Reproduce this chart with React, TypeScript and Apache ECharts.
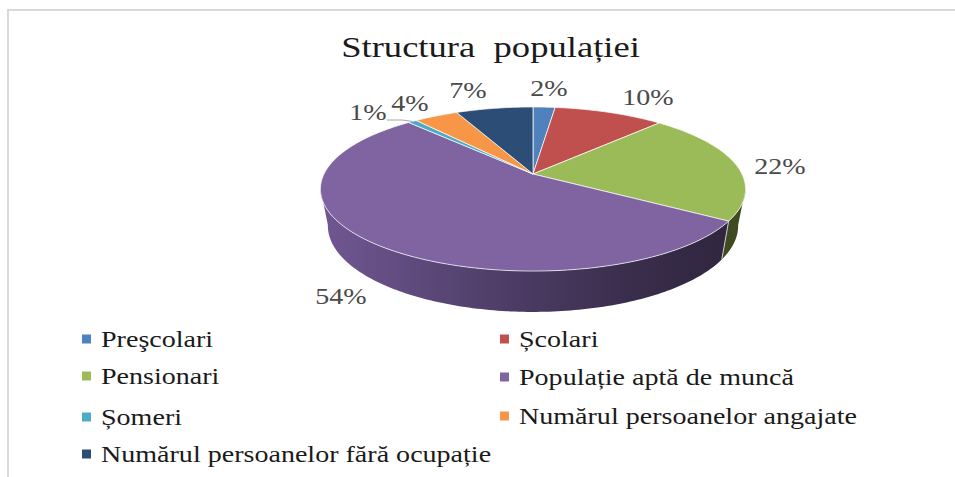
import React, { useEffect, useRef } from "react";
import * as echarts from "echarts";

const chartTitle = "Structura  populației";
const categories = [
  "Preşcolari",
  "Școlari",
  "Pensionari",
  "Populație aptă de muncă",
  "Șomeri",
  "Numărul persoanelor angajate",
  "Numărul persoanelor fără ocupație",
];
const shares = [2, 10, 22, 54.2, 0.8, 4, 7];
const colors = ["#4f81bd", "#c0504d", "#9bbb59", "#8064a2", "#4bacc6", "#f79646", "#2c4d75"];

const labelPositions = [
  [549, 88],
  [648, 97],
  [780, 166],
  [341, 296],
  [368, 112],
  [410, 103],
  [468, 90],
];
const legendPositions = [
  [82, 339],
  [500, 339],
  [82, 376],
  [500, 377],
  [82, 417],
  [500, 416],
  [82, 454],
];

const FONT = "'Liberation Serif', 'Times New Roman', serif";
const STRETCH = 1.22;
const APEX_X = 533;
const APEX_Y = 174;
const TILT = 0.183;
const SCALE_X = 209;
const SCALE_Y = 79.3;
const WALL_SX = 0.965;
const WALL_SY = 1.05;
const WALL_DY = 36;
const VISIBLE_FROM = 100;
const VISIBLE_TO = 260;

const total = shares.reduce((a, b) => a + b, 0);
const toDeg = (v: number) => (v / total) * 360;

function rim(deg: number, lower: boolean): number[] {
  const t = (deg * Math.PI) / 180;
  const X = Math.sin(t);
  const Y = -Math.cos(t);
  const w = 1 - TILT * Y;
  const px = (SCALE_X * X) / w;
  const py = (SCALE_Y * Y) / w;
  return lower
    ? [APEX_X + px * WALL_SX, APEX_Y + py * WALL_SY + WALL_DY]
    : [APEX_X + px, APEX_Y + py];
}

function arc(from: number, to: number, lower: boolean): number[][] {
  const pts: number[][] = [];
  const n = Math.max(2, Math.ceil(to - from));
  for (let i = 0; i <= n; i++) pts.push(rim(from + ((to - from) * i) / n, lower));
  return pts;
}

function wallFill(i: number) {
  if (i === 3) {
    return new echarts.graphic.LinearGradient(0, 0, 1, 0, [
      { offset: 0, color: "#715793" },
      { offset: 0.4, color: "#51406b" },
      { offset: 0.75, color: "#3a2e4d" },
      { offset: 1, color: "#30263f" },
    ]);
  }
  return "#3f4a20";
}

function renderSlice(params: any, api: any) {
  const i = params.seriesIndex;
  const before = shares.slice(0, i).reduce((a, b) => a + b, 0);
  const start = toDeg(before);
  const end = start + toDeg(api.value(0));
  const children: any[] = [];

  const ws = Math.max(start, VISIBLE_FROM);
  const we = Math.min(end, VISIBLE_TO);
  if (we > ws) {
    const top = arc(ws, we, false);
    const low = arc(ws, we, true).reverse();
    children.push({
      type: "polygon",
      shape: { points: top.concat(low) },
      style: { fill: wallFill(i) },
    });
    if (start > VISIBLE_FROM) {
      const a = rim(start, false);
      const b = rim(start, true);
      children.push({
        type: "line",
        shape: { x1: a[0], y1: a[1], x2: b[0], y2: b[1] },
        style: { stroke: "#c9c9d0", lineWidth: 1 },
      });
    }
  }

  children.push({
    type: "polygon",
    shape: { points: [[APEX_X, APEX_Y] as number[]].concat(arc(start, end, false)) },
    style: { fill: colors[i], stroke: "rgba(255,255,255,0.8)", lineWidth: 0.9 },
  });

  children.push({
    type: "text",
    x: labelPositions[i][0],
    y: labelPositions[i][1],
    scaleX: STRETCH,
    style: {
      text: `${Math.round(api.value(0))}%`,
      fill: "#4a4a4a",
      fontFamily: FONT,
      fontSize: 23,
      align: "center",
      verticalAlign: "middle",
    },
  });

  if (i === 4) {
    const p = rim((start + end) / 2, false);
    children.push({
      type: "polyline",
      shape: { points: [[387, 120], [402, 120], p] },
      style: { stroke: "#a6a6a6", lineWidth: 1, fill: "none" },
    });
  }

  return { type: "group", children };
}

export default function App() {
  const ref = useRef<HTMLDivElement>(null);
  useEffect(() => {
    const chart = echarts.init(ref.current!, undefined, { renderer: "svg" });
    const legendItems: any[] = [];
    categories.forEach((name, i) => {
      const [x, y] = legendPositions[i];
      legendItems.push({
        type: "rect",
        shape: { x, y: y - 4.5, width: 9, height: 9 },
        style: { fill: colors[i] },
      });
      legendItems.push({
        type: "text",
        x: x + 19,
        y,
        scaleX: STRETCH,
        style: {
          text: name,
          fill: "#1a1a1a",
          fontFamily: FONT,
          fontSize: 23,
          align: "left",
          verticalAlign: "middle",
        },
      });
    });
    chart.setOption({
      animation: false,
      backgroundColor: "#ffffff",
      series: categories.map((name, i) => ({
        type: "custom",
        name,
        coordinateSystem: "none",
        silent: true,
        itemStyle: { color: colors[i] },
        data: [[shares[i]]],
        renderItem: renderSlice,
      })),
      graphic: [
        { type: "rect", shape: { x: 7, y: 9, width: 948, height: 2 }, style: { fill: "#d9d9d9" } },
        { type: "rect", shape: { x: 7, y: 9, width: 2, height: 468 }, style: { fill: "#d9d9d9" } },
        {
          type: "text",
          x: 490.5,
          y: 47,
          scaleX: STRETCH,
          style: {
            text: chartTitle,
            fill: "#1a1a1a",
            fontFamily: FONT,
            fontSize: 30,
            align: "center",
            verticalAlign: "middle",
          },
        },
        ...legendItems,
      ],
    });
    return () => chart.dispose();
  }, []);
  return <div ref={ref} style={{ position: "absolute", left: 0, top: 0, width: 955, height: 477 }} />;
}
